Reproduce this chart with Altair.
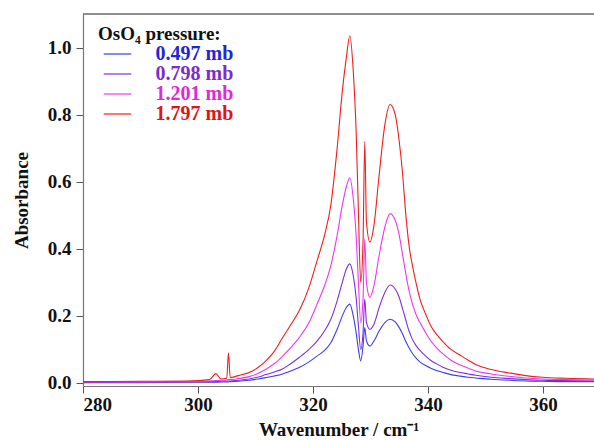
import altair as alt
import pandas as pd

wavenumber = [280, 290, 298, 302, 303.1, 304, 305.0, 305.3, 305.6, 307,
              308.9, 310.5, 311.8, 313.3, 314.7, 316, 317.6, 319.3, 320.7, 322,
              323.1, 324.2, 325.1, 325.8, 326.4, 327.0, 327.5, 327.9, 328.3, 328.7,
              329.0, 329.3, 329.9, 330.6, 331.5, 332.5, 333.4, 334.3, 335.0, 335.6,
              336.1, 336.7, 337.3, 337.9, 338.6, 339.6, 340.5, 341.5, 342.5, 344,
              345.4, 347, 348.3, 351, 354.1, 357, 359.9, 364, 368.9]

abs_0497 = [0.001, 0.001, 0.002, 0.002, 0.002, 0.003, 0.003, 0.003, 0.004, 0.005,
            0.008, 0.012, 0.016, 0.021, 0.027, 0.035, 0.046, 0.063, 0.080, 0.097,
            0.120, 0.160, 0.200, 0.225, 0.235, 0.200, 0.150, 0.100, 0.066, 0.110,
            0.165, 0.125, 0.110, 0.125, 0.155, 0.180, 0.190, 0.182, 0.165, 0.145,
            0.125, 0.105, 0.088, 0.075, 0.063, 0.052, 0.044, 0.037, 0.032, 0.025,
            0.021, 0.017, 0.015, 0.011, 0.008, 0.006, 0.005, 0.004, 0.004]

abs_0798 = [0.002, 0.002, 0.003, 0.004, 0.004, 0.005, 0.005, 0.006, 0.006, 0.008,
            0.012, 0.018, 0.025, 0.033, 0.042, 0.056, 0.076, 0.100, 0.125, 0.155,
            0.190, 0.245, 0.300, 0.340, 0.355, 0.320, 0.255, 0.170, 0.100, 0.150,
            0.250, 0.180, 0.160, 0.175, 0.225, 0.270, 0.292, 0.280, 0.255, 0.220,
            0.190, 0.155, 0.130, 0.112, 0.097, 0.080, 0.067, 0.057, 0.048, 0.038,
            0.032, 0.027, 0.023, 0.017, 0.013, 0.010, 0.008, 0.007, 0.006]

abs_1201 = [0.003, 0.003, 0.004, 0.006, 0.007, 0.008, 0.009, 0.010, 0.010, 0.013,
            0.019, 0.029, 0.041, 0.058, 0.080, 0.103, 0.135, 0.180, 0.235, 0.290,
            0.350, 0.440, 0.530, 0.585, 0.612, 0.550, 0.440, 0.300, 0.180, 0.250,
            0.430, 0.300, 0.255, 0.290, 0.380, 0.465, 0.505, 0.485, 0.440, 0.380,
            0.330, 0.275, 0.235, 0.205, 0.180, 0.150, 0.125, 0.105, 0.088, 0.068,
            0.055, 0.044, 0.036, 0.027, 0.020, 0.015, 0.012, 0.010, 0.009]

abs_1797 = [0.004, 0.005, 0.006, 0.010, 0.028, 0.012, 0.014, 0.090, 0.016, 0.022,
            0.031, 0.047, 0.066, 0.095, 0.135, 0.170, 0.215, 0.285, 0.364, 0.440,
            0.530, 0.700, 0.870, 0.970, 1.035, 0.930, 0.750, 0.510, 0.300, 0.420,
            0.720, 0.480, 0.420, 0.470, 0.620, 0.770, 0.830, 0.800, 0.720, 0.620,
            0.510, 0.410, 0.350, 0.300, 0.250, 0.205, 0.170, 0.145, 0.125, 0.100,
            0.085, 0.068, 0.055, 0.040, 0.030, 0.022, 0.017, 0.014, 0.012]

series_labels = ["0.497 mb", "0.798 mb", "1.201 mb", "1.797 mb"]
line_colors = ["#3c3cf0", "#7a30e8", "#f036f0", "#f41c1c"]
label_colors = ["#2424d8", "#7a2cd0", "#e028d8", "#e01414"]
x_ticks = [280, 300, 320, 340, 360]
y_ticks = [0.0, 0.2, 0.4, 0.6, 0.8, 1.0]
x_domain = [280, 368.87]
y_domain = [-0.009, 1.1]

rows = []
for lab, vals in zip(series_labels, [abs_0497, abs_0798, abs_1201, abs_1797]):
    for w, a in zip(wavenumber, vals):
        rows.append({"wavenumber": w, "absorbance": a, "pressure": lab})
df = pd.DataFrame(rows)

FONT = "Liberation Serif"

label_fill_expr = "[" + ",".join("'%s'" % c for c in label_colors) + "][indexof([" + \
    ",".join("'%s'" % s for s in series_labels) + "], datum.value)]"

lines = alt.Chart(df).mark_line(strokeWidth=1.1, clip=True, interpolate="monotone").encode(
    x=alt.X("wavenumber:Q",
            scale=alt.Scale(domain=x_domain, nice=False, zero=False),
            axis=alt.Axis(values=x_ticks, format="d", title="Wavenumber / cm⁻¹",
                          grid=False, tickSize=7, labelPadding=2, titlePadding=6)),
    y=alt.Y("absorbance:Q",
            scale=alt.Scale(domain=y_domain, nice=False, zero=False),
            axis=alt.Axis(values=y_ticks, format=".1f", title="Absorbance",
                          grid=False, tickSize=7, labelPadding=5, titlePadding=16)),
    color=alt.Color("pressure:N",
                    scale=alt.Scale(domain=series_labels, range=line_colors),
                    legend=alt.Legend(
                        title="OsO₄ pressure:", orient="none", legendX=15, legendY=11,
                        direction="vertical", symbolType="M-2.5,0H2.5", symbolSize=121,
                        symbolStrokeWidth=1.2, symbolOffset=9.5, labelOffset=28,
                        padding=0, titlePadding=0, rowPadding=0,
                        labelFont=FONT, labelFontSize=20, labelFontWeight="bold",
                        titleFont=FONT, titleFontSize=19, titleFontWeight="bold",
                        titleColor="#111111",
                        labelColor=alt.ExprRef(label_fill_expr))),
)

top_df = pd.DataFrame({"y": [y_domain[1]]})
top_line = alt.Chart(top_df).mark_rule(color="#222222", strokeWidth=1.2).encode(
    y=alt.Y("y:Q")
)

chart = alt.layer(lines, top_line).properties(
    width=511, height=372,
    autosize=alt.AutoSizeParams(type="none"),
    padding={"left": 83, "top": 14, "right": 0, "bottom": 54},
).configure_view(stroke=None).configure_axis(
    labelFont=FONT, titleFont=FONT, labelFontSize=19, titleFontSize=19,
    labelFontWeight="bold", titleFontWeight="bold",
    labelColor="#111111", titleColor="#111111",
    domainColor="#777777", tickColor="#555555", domainWidth=1.2,
)

chart.save("out.html", embed_options={"renderer": "svg", "actions": False})
